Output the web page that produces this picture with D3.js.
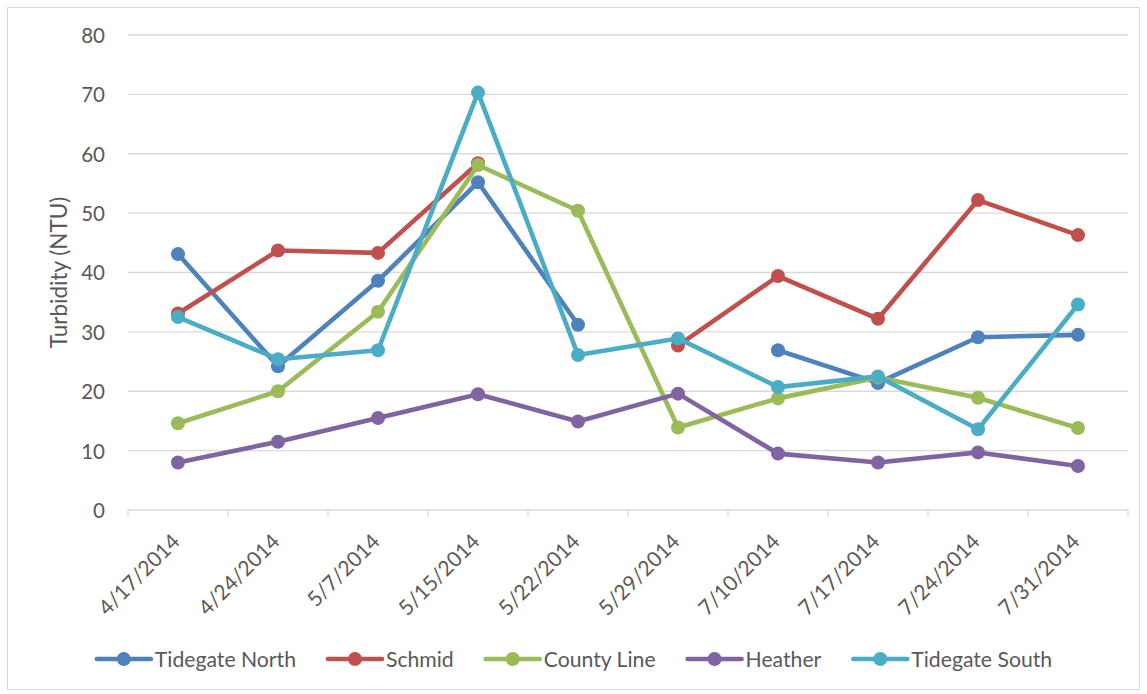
<!DOCTYPE html>
<html>
<head>
<meta charset="utf-8">
<script src="https://cdn.jsdelivr.net/npm/d3@7"></script>
<style>
  html, body { margin: 0; padding: 0; background: #fff; }
  svg text { font-family: Lato, "Open Sans", sans-serif; fill: #595959; }
</style>
</head>
<body>
<svg id="chart" width="1147" height="694"></svg>
<script>
// Sampling dates (category axis)
const dates = ["4/17/2014", "4/24/2014", "5/7/2014", "5/15/2014", "5/22/2014",
               "5/29/2014", "7/10/2014", "7/17/2014", "7/24/2014", "7/31/2014"];

// Turbidity readings (NTU) per site; null = no sample taken
const tidegateNorth = [43.1, 24.2, 38.6, 55.2, 31.2, null, 26.9, 21.4, 29.1, 29.5];
const schmid        = [33.1, 43.7, 43.3, 58.4, null, 27.7, 39.4, 32.2, 52.2, 46.3];
const countyLine    = [14.6, 20.0, 33.4, 58.1, 50.4, 13.9, 18.8, 22.3, 18.9, 13.8];
const heather       = [8.0, 11.5, 15.5, 19.5, 14.9, 19.6, 9.5, 8.0, 9.7, 7.4];
const tidegateSouth = [32.5, 25.4, 26.9, 70.3, 26.1, 28.9, 20.7, 22.5, 13.6, 34.6];

const seriesNames  = ["Tidegate North", "Schmid", "County Line", "Heather", "Tidegate South"];
const seriesValues = [tidegateNorth, schmid, countyLine, heather, tidegateSouth];
const seriesColors = ["#4F81BD", "#C0504D", "#9BBB59", "#8064A2", "#4BACC6"];

const yTicks = [0, 10, 20, 30, 40, 50, 60, 70, 80];
const yTitle = "Turbidity (NTU)";

const svg = d3.select("#chart");
const plot = { left: 128, right: 1128, top: 35, bottom: 510 };
const lineW = 4.6, markerR = 7;

// chart frame
svg.append("rect")
  .attr("x", 7.5).attr("y", 7.5)
  .attr("width", 1132).attr("height", 682)
  .attr("fill", "#fff").attr("stroke", "#d9d9d9").attr("stroke-width", 1);

const x = d3.scaleBand().domain(dates).range([plot.left, plot.right]).padding(0);
const y = d3.scaleLinear().domain([0, 80]).range([plot.bottom, plot.top]);

// horizontal gridlines
svg.append("g").selectAll("line").data(yTicks.filter(t => t > 0)).join("line")
  .attr("x1", plot.left).attr("x2", plot.right)
  .attr("y1", d => y(d)).attr("y2", d => y(d))
  .attr("stroke", "#d9d9d9").attr("stroke-width", 1.3);

// y axis tick labels
const yAxis = d3.axisLeft(y).tickValues(yTicks).tickSize(0).tickPadding(0);
const gy = svg.append("g").attr("transform", `translate(105,0)`).call(yAxis);
gy.select(".domain").remove();
gy.selectAll("text")
  .attr("font-size", 20.5).attr("fill", "#595959")
  .style("font-family", "Lato, sans-serif").attr("dy", "0.36em");

// x axis: baseline with ticks between categories
const gx = svg.append("g").attr("transform", `translate(0,${plot.bottom})`);
gx.append("line").attr("x1", plot.left).attr("x2", plot.right)
  .attr("y1", 0).attr("y2", 0).attr("stroke", "#d9d9d9").attr("stroke-width", 1.3);
const boundaries = dates.map(d => x(d)).concat([x(dates[dates.length - 1]) + x.bandwidth()]);
gx.selectAll("line.tk").data(boundaries).join("line").attr("class", "tk")
  .attr("x1", d => d).attr("x2", d => d).attr("y1", 0).attr("y2", 7)
  .attr("stroke", "#d9d9d9").attr("stroke-width", 1.3);
gx.selectAll("text").data(dates).join("text")
  .attr("transform", d => `translate(${x(d) + x.bandwidth() / 2 + 3},${33}) rotate(-45)`)
  .attr("text-anchor", "end")
  .attr("font-size", 21)
  .text(d => d);

// y axis title
svg.append("text")
  .attr("transform", `translate(67,${(plot.top + plot.bottom) / 2}) rotate(-90)`)
  .attr("text-anchor", "middle")
  .attr("font-size", 22.5)
  .text(yTitle);

// series lines and markers
const cx = d => x(d) + x.bandwidth() / 2;
const line = d3.line()
  .defined(p => p.v != null)
  .x(p => cx(p.d))
  .y(p => y(p.v));

seriesValues.forEach((vals, i) => {
  const pts = dates.map((d, j) => ({ d, v: vals[j] }));
  const g = svg.append("g");
  g.append("path").datum(pts)
    .attr("d", line)
    .attr("fill", "none")
    .attr("stroke", seriesColors[i])
    .attr("stroke-width", lineW)
    .attr("stroke-linejoin", "round")
    .attr("stroke-linecap", "round");
  g.selectAll("circle").data(pts.filter(p => p.v != null)).join("circle")
    .attr("cx", p => cx(p.d)).attr("cy", p => y(p.v))
    .attr("r", markerR).attr("fill", seriesColors[i]);
});

// legend
const legendY = 659;
const legend = svg.append("g");
const items = seriesNames.map((name, i) => {
  const g = legend.append("g");
  g.append("line").attr("x1", 0).attr("x2", 54).attr("y1", 0).attr("y2", 0)
    .attr("stroke", seriesColors[i]).attr("stroke-width", lineW).attr("stroke-linecap", "round");
  g.append("circle").attr("cx", 27).attr("cy", 0).attr("r", markerR).attr("fill", seriesColors[i]);
  const t = g.append("text").attr("x", 58).attr("y", 0).attr("dy", "0.36em")
    .attr("font-size", 21.2).text(name);
  return { g, w: 58 + t.node().getComputedTextLength() };
});
const gap = 32;
const total = d3.sum(items, d => d.w) + gap * (items.length - 1);
let lx = 574.5 - total / 2;
items.forEach(it => {
  it.g.attr("transform", `translate(${lx},${legendY})`);
  lx += it.w + gap;
});
</script>
</body>
</html>
